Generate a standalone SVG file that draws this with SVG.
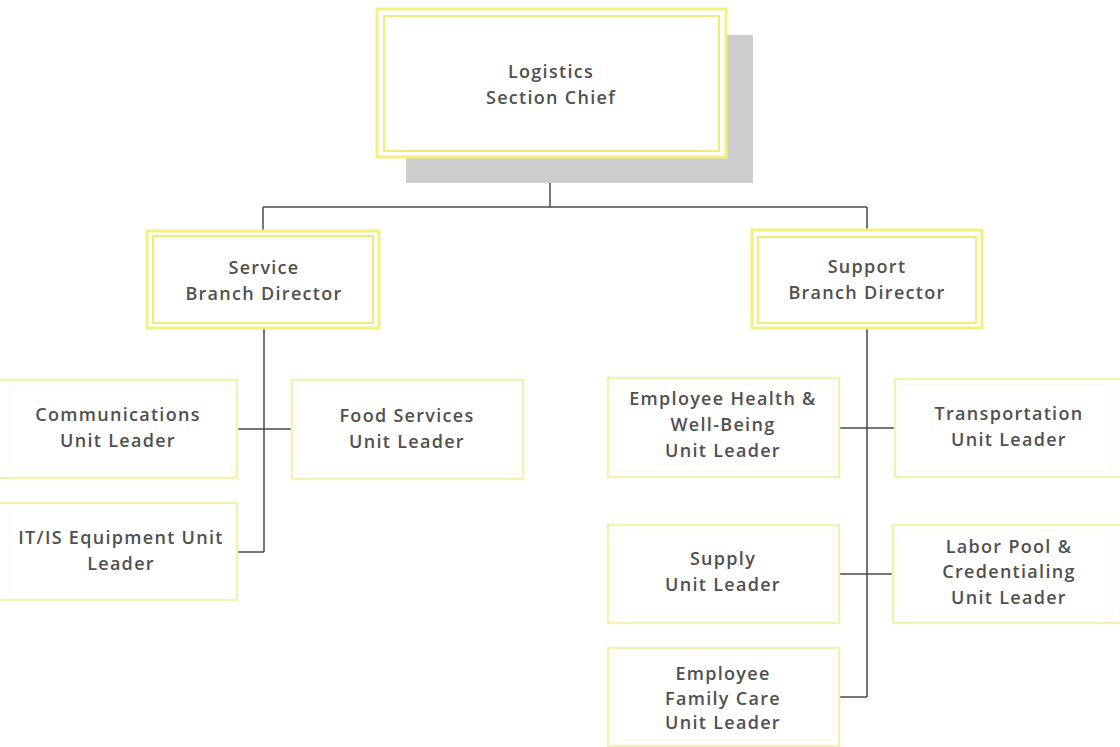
<svg xmlns="http://www.w3.org/2000/svg" width="1120" height="747" viewBox="0 0 1120 747">
<style>
.t{font-family:"Open Sans","Liberation Sans",sans-serif;font-size:18px;font-weight:600;letter-spacing:1.3px;fill:#505050;text-anchor:middle}
.o{fill:#fff;stroke:#f3f07e;stroke-width:3}
.i{fill:none;stroke:#efec78;stroke-width:2}
.uo{fill:#fff;stroke:#f3f2b4;stroke-width:2.5}
.ui{fill:none;stroke:#f9f9e2;stroke-width:1}
.c{fill:none;stroke:#4a4a4a;stroke-width:1.5}
</style>
<rect width="1120" height="747" fill="#fff"/>
<g id="connectors">
<path class="c" d="M550,157V207M263,207H867M263,207V231M867,207V230"/>
<path class="c" d="M264,328V552M237,429H292M237,552H264"/>
<path class="c" d="M867,328V697M839,428H895M839,574H893M839,697H867"/>
</g>
<g id="logistics-chief">
<rect x="406" y="35" width="347" height="148" fill="#cdcdcd"/>
<rect class="o" x="377" y="9" width="349" height="148"/>
<rect class="i" x="384" y="16" width="335" height="135"/>
<text class="t" x="551" y="78">Logistics</text>
<text class="t" x="551" y="104">Section Chief</text>
</g>
<g id="service-branch">
<rect class="o" x="147" y="231" width="232" height="97"/>
<rect class="i" x="153" y="236" width="220" height="87"/>
<text class="t" x="264" y="274">Service</text>
<text class="t" x="264" y="300">Branch Director</text>
</g>
<g id="support-branch">
<rect class="o" x="752" y="230" width="230" height="98"/>
<rect class="i" x="758" y="237" width="218" height="86"/>
<text class="t" x="867" y="273">Support</text>
<text class="t" x="867" y="299">Branch Director</text>
</g>
<g id="communications">
<rect class="uo" x="-6" y="380" width="243" height="98"/>
<rect class="ui" x="10" y="386" width="221" height="86"/>
<text class="t" x="118" y="421">Communications</text>
<text class="t" x="118" y="447">Unit Leader</text>
</g>
<g id="food-services">
<rect class="uo" x="292" y="380" width="231" height="99"/>
<rect class="ui" x="298" y="386" width="219" height="87"/>
<text class="t" x="407" y="422">Food Services</text>
<text class="t" x="407" y="448">Unit Leader</text>
</g>
<g id="it-is-equipment">
<rect class="uo" x="-6" y="503" width="243" height="97"/>
<rect class="ui" x="10" y="509" width="221" height="85"/>
<text class="t" x="121" y="544">IT/IS Equipment Unit</text>
<text class="t" x="121" y="570">Leader</text>
</g>
<g id="employee-health">
<rect class="uo" x="608" y="378" width="231" height="99"/>
<rect class="ui" x="614" y="384" width="219" height="87"/>
<text class="t" x="723" y="405">Employee Health &amp;</text>
<text class="t" x="723" y="431">Well-Being</text>
<text class="t" x="723" y="457">Unit Leader</text>
</g>
<g id="transportation">
<rect class="uo" x="895" y="379" width="240" height="98"/>
<rect class="ui" x="901" y="385" width="211" height="86"/>
<text class="t" x="1009" y="420">Transportation</text>
<text class="t" x="1009" y="446">Unit Leader</text>
</g>
<g id="supply">
<rect class="uo" x="608" y="525" width="231" height="98"/>
<rect class="ui" x="614" y="531" width="219" height="86"/>
<text class="t" x="723" y="565">Supply</text>
<text class="t" x="723" y="591">Unit Leader</text>
</g>
<g id="labor-pool">
<rect class="uo" x="893" y="525" width="240" height="98"/>
<rect class="ui" x="899" y="531" width="213" height="86"/>
<text class="t" x="1009" y="553">Labor Pool &amp;</text>
<text class="t" x="1009" y="578">Credentialing</text>
<text class="t" x="1009" y="604">Unit Leader</text>
</g>
<g id="employee-family-care">
<rect class="uo" x="608" y="648" width="231" height="98"/>
<rect class="ui" x="614" y="654" width="219" height="86"/>
<text class="t" x="723" y="680">Employee</text>
<text class="t" x="723" y="705">Family Care</text>
<text class="t" x="723" y="729">Unit Leader</text>
</g>
</svg>
